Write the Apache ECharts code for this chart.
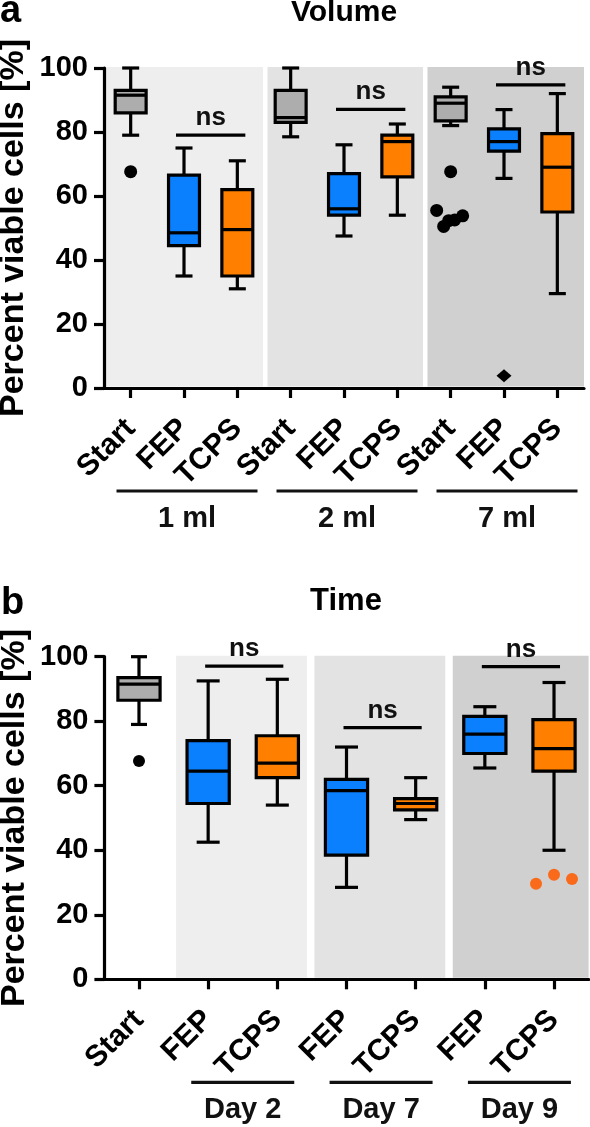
<!DOCTYPE html>
<html><head><meta charset="utf-8">
<script src="https://cdn.jsdelivr.net/npm/echarts@6/dist/echarts.min.js"></script>
<style>html,body{margin:0;padding:0;background:#fff}#c{width:590px;height:1127px}</style>
</head><body><div id="c"></div>
<script>
// ---------------- data ----------------
const yTicks = [0, 20, 40, 60, 80, 100];
const axisTitle = 'Percent viable cells [%]';

// Panel a: Volume
const titleA = 'Volume';
const catsA = ['Start', 'FEP', 'TCPS', 'Start', 'FEP', 'TCPS', 'Start', 'FEP', 'TCPS'];
const groupNamesA = ['1 ml', '2 ml', '7 ml'];
const groupSpansA = [[0, 2], [3, 5], [6, 8]];
// [min, Q1, median, Q3, max]
const boxesA = [
  [79, 86, 91.5, 93, 100],
  [35, 44.5, 48.5, 66.5, 75],
  [31, 35, 49.5, 62, 71],
  [78.5, 83, 84.5, 93, 100],
  [47.5, 54, 56, 67, 76],
  [54, 66, 77, 79, 82.5],
  [82, 83.5, 89, 91, 94],
  [65.5, 74, 77, 81, 87],
  [29.5, 55, 69, 79.5, 92]
];
// outliers: [category index, value]
const outliersA = [[0, 67.6], [6, 67.6], [6, 55.5], [6, 50.5], [6, 52.3], [6, 52.5], [6, 53.8]];
const diamondsA = [[7, 3.8]];
// ns comparisons: [from index, to index, value]
const nsA = [[1, 2, 79], [4, 5, 87.1], [7, 8, 94.7]];

// Panel b: Time
const titleB = 'Time';
const catsB = ['Start', 'FEP', 'TCPS', 'FEP', 'TCPS', 'FEP', 'TCPS'];
const groupNamesB = ['Day 2', 'Day 7', 'Day 9'];
const groupSpansB = [[1, 2], [3, 4], [5, 6]];
const boxesB = [
  [79, 86.5, 91.5, 93.5, 100],
  [42.5, 54.5, 64.5, 74, 92.5],
  [54, 62.5, 67, 75.5, 93],
  [28.5, 38.5, 58.5, 62, 72],
  [49.5, 52.5, 54.5, 56, 62.5],
  [65.5, 70, 76, 81.5, 84.5],
  [40, 64.5, 71.5, 80.5, 92]
];
const outliersB = [[0, 67.7], [6, 29.6], [6, 32.4], [6, 31.1]];
const nsB = [[1, 2, 97.1], [3, 4, 78], [5, 6, 96.9]];

// ---------------- styles ----------------
const FONT = '"Liberation Sans", Arial, Helvetica, sans-serif';
const fillByCat = { Start: '#adadad', FEP: '#0a80ff', TCPS: '#ff8000' };
const shadeColors = ['#eeeeee', '#e3e3e3', '#d0d0d0'];
const jitterA = [0, 0, -14, -7, -2, 4, 12];      // px horizontal spread of outlier dots
const jitterB = [0, -18, 0, 18];
const outlierColorB = ['#000', '#f96a1b', '#f96a1b', '#f96a1b'];

const panelA = {
  grid: { left: 104, top: 68, width: 480, height: 320 },
  boxFrac: 0.58, cap: () => 17, nsL: 8, nsR: 8,
  shadeInL: 3.5, shadeInR: 1, lineHalf: 70.5, groupShift: 3,
  cats: catsA
};
const panelB = {
  grid: { left: 104.4, top: 656.7, width: 484.2, height: 322.6 },
  boxFrac: 0.61, cap: (i) => (i === 0 ? 16 : 23), nsL: 3, nsR: 6,
  shadeInL: 2.5, shadeInR: 5, lineHalf: 51.5, groupShift: 0,
  cats: catsB
};

const LW = 3.2;

function shadeRender(panel, nGroups) {
  return function (params, api) {
    const from = api.value(0), to = api.value(1);
    const bw = api.size([1, 0])[0];
    const xs = api.coord([from, 0])[0] - bw / 2;
    const xe = api.coord([to, 0])[0] + bw / 2;
    const x0 = xs + (from === 0 ? 2 : panel.shadeInL);
    const x1 = xe - (params.dataIndex === nGroups - 1 ? 0 : panel.shadeInR);
    const yTop = api.coord([from, 100])[1] - 1;
    const yBot = api.coord([from, 0])[1] - 1.5;
    return {
      type: 'rect',
      shape: { x: x0, y: yTop, width: x1 - x0, height: yBot - yTop },
      style: { fill: shadeColors[params.dataIndex] }
    };
  };
}

function boxRender(panel) {
  return function (params, api) {
    const i = api.value(0);
    const bw = api.size([1, 0])[0];
    const w = bw * panel.boxFrac;
    const cap = panel.cap(i);
    const x = api.coord([i, 0])[0];
    const y = (k) => api.coord([i, api.value(k)])[1];
    const yMin = y(1), yQ1 = y(2), yMed = y(3), yQ3 = y(4), yMax = y(5);
    const st = { stroke: '#000', lineWidth: LW };
    const fill = fillByCat[panel.cats[i]];
    return {
      type: 'group',
      children: [
        { type: 'line', shape: { x1: x, y1: yMax, x2: x, y2: yQ3 }, style: st },
        { type: 'line', shape: { x1: x, y1: yQ1, x2: x, y2: yMin }, style: st },
        { type: 'line', shape: { x1: x - cap / 2, y1: yMax, x2: x + cap / 2, y2: yMax }, style: st },
        { type: 'line', shape: { x1: x - cap / 2, y1: yMin, x2: x + cap / 2, y2: yMin }, style: st },
        { type: 'rect', shape: { x: x - w / 2, y: yQ3, width: w, height: yQ1 - yQ3 },
          style: { fill: fill, stroke: '#000', lineWidth: LW } },
        { type: 'line', shape: { x1: x - w / 2, y1: yMed, x2: x + w / 2, y2: yMed }, style: st }
      ]
    };
  };
}

function dotRender(jitter, colors, r) {
  return function (params, api) {
    const p = api.coord([api.value(0), api.value(1)]);
    return {
      type: 'circle',
      shape: { cx: p[0] + jitter[params.dataIndex], cy: p[1], r: r },
      style: { fill: colors ? colors[params.dataIndex] : '#000' }
    };
  };
}

function diamondRender(params, api) {
  const p = api.coord([api.value(0), api.value(1)]);
  const hw = 7.5, hh = 6.5;
  return {
    type: 'polygon',
    shape: { points: [[p[0], p[1] - hh], [p[0] + hw, p[1]], [p[0], p[1] + hh], [p[0] - hw, p[1]]] },
    style: { fill: '#000' }
  };
}

function nsRender(panel) {
  return function (params, api) {
    const x1 = api.coord([api.value(0), 0])[0] - panel.nsL;
    const x2 = api.coord([api.value(1), 0])[0] + panel.nsR;
    const yy = api.coord([api.value(0), api.value(2)])[1];
    return {
      type: 'group',
      children: [
        { type: 'line', shape: { x1: x1, y1: yy, x2: x2, y2: yy }, style: { stroke: '#000', lineWidth: LW } },
        { type: 'text', x: (x1 + x2) / 2, y: yy - 4,
          style: { text: 'ns', font: 'bold 26px ' + FONT, fill: '#111',
                   align: 'center', verticalAlign: 'bottom', textAlign: 'center', textVerticalAlign: 'bottom' } }
      ]
    };
  };
}

function groupRender(panel, names) {
  return function (params, api) {
    const xa = api.coord([api.value(0), 0])[0];
    const xb = api.coord([api.value(1), 0])[0];
    const base = api.coord([api.value(0), 0])[1];
    const cx = (xa + xb) / 2 + panel.groupShift;
    return {
      type: 'group',
      children: [
        { type: 'line', shape: { x1: cx - panel.lineHalf, y1: base + 103, x2: cx + panel.lineHalf, y2: base + 103 },
          style: { stroke: '#111', lineWidth: LW } },
        { type: 'text', x: cx, y: base + 131,
          style: { text: names[params.dataIndex], font: 'bold 29px ' + FONT, fill: '#111',
                   align: 'center', verticalAlign: 'middle', textAlign: 'center', textVerticalAlign: 'middle' } }
      ]
    };
  };
}

function xAxis(gi, cats) {
  return {
    type: 'category', gridIndex: gi, data: cats, z: 10,
    axisLine: { show: true, lineStyle: { color: '#000', width: LW } },
    axisTick: { show: true, alignWithLabel: true, length: 10, lineStyle: { color: '#000', width: LW } },
    axisLabel: { interval: 0, rotate: 45, fontSize: 30, fontWeight: 'bold', fontFamily: FONT,
                 color: '#000', margin: 36, hideOverlap: false },
    splitLine: { show: false }
  };
}
function yAxis(gi) {
  return {
    type: 'value', gridIndex: gi, min: yTicks[0], max: yTicks[yTicks.length - 1],
    interval: yTicks[1] - yTicks[0], z: 10,
    axisLine: { show: true, lineStyle: { color: '#000', width: LW } },
    axisTick: { show: true, length: 10, lineStyle: { color: '#000', width: LW } },
    axisLabel: { fontSize: 29, fontWeight: 'bold', fontFamily: FONT, color: '#000', margin: 16 },
    splitLine: { show: false },
    name: axisTitle, nameLocation: 'middle', nameGap: 73, nameRotate: 90, nameMoveOverlap: false,
    nameTextStyle: { fontSize: 34, fontWeight: 'bold', fontFamily: FONT, color: '#000' }
  };
}

function panelSeries(gi, panel, boxes, groupSpans, groupNames, ns) {
  return [
    { type: 'custom', xAxisIndex: gi, yAxisIndex: gi, z: 1, silent: true,
      renderItem: shadeRender(panel, groupSpans.length), data: groupSpans },
    { type: 'custom', xAxisIndex: gi, yAxisIndex: gi, z: 3, silent: true,
      renderItem: boxRender(panel), data: boxes.map((b, i) => [i].concat(b)) },
    { type: 'custom', xAxisIndex: gi, yAxisIndex: gi, z: 4, silent: true,
      renderItem: nsRender(panel), data: ns },
    { type: 'custom', xAxisIndex: gi, yAxisIndex: gi, z: 4, silent: true,
      renderItem: groupRender(panel, groupNames), data: groupSpans }
  ];
}

const chart = echarts.init(document.getElementById('c'), null, { renderer: 'canvas' });
const series = []
  .concat(panelSeries(0, panelA, boxesA, groupSpansA, groupNamesA, nsA))
  .concat(panelSeries(1, panelB, boxesB, groupSpansB, groupNamesB, nsB))
  .concat([
    { type: 'custom', xAxisIndex: 0, yAxisIndex: 0, z: 5, silent: true,
      renderItem: dotRender(jitterA, null, 6.5), data: outliersA },
    { type: 'custom', xAxisIndex: 0, yAxisIndex: 0, z: 5, silent: true,
      renderItem: diamondRender, data: diamondsA },
    { type: 'custom', xAxisIndex: 1, yAxisIndex: 1, z: 5, silent: true,
      renderItem: dotRender(jitterB, outlierColorB, 6), data: outliersB }
  ]);

function txt(text, x, y, size, align) {
  return { type: 'text', x: x, y: y, z: 20,
    style: { text: text, font: 'bold ' + size + 'px ' + FONT, fill: '#000',
             align: align, verticalAlign: 'middle', textAlign: align, textVerticalAlign: 'middle' } };
}

chart.setOption({
  animation: false,
  backgroundColor: '#fff',
  grid: [
    Object.assign({ outerBoundsMode: 'none', containLabel: false }, panelA.grid),
    Object.assign({ outerBoundsMode: 'none', containLabel: false }, panelB.grid)
  ],
  xAxis: [xAxis(0, catsA), xAxis(1, catsB)],
  yAxis: [yAxis(0), yAxis(1)],
  series: series,
  graphic: [
    txt('a', 0, 12, 38, 'left'),
    txt('b', 1, 604, 38, 'left'),
    txt(titleA, 344, 13, 30, 'center'),
    txt(titleB, 346, 601, 31, 'center')
  ]
});
</script>
</body></html>
